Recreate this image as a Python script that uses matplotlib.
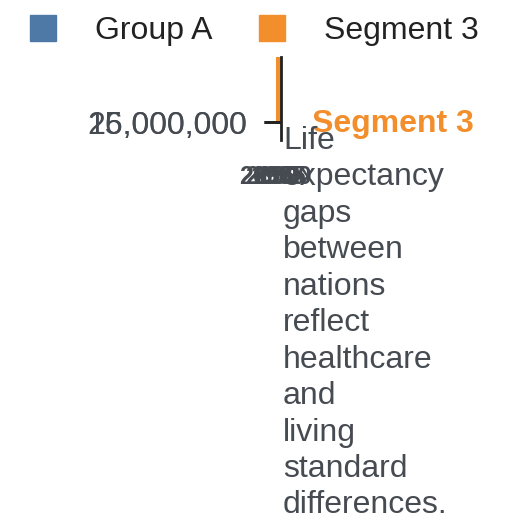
import matplotlib
matplotlib.use("Agg")
import matplotlib.pyplot as plt
from matplotlib.lines import Line2D

plt.rcParams['font.family'] = ['Liberation Sans', 'DejaVu Sans']

# data
years = ['1990', '1995', '2000', '2005']
group_a = [0, 0, 0, 0]
segment_3 = [0, 26_000_000, 0, 0]
y_tick_labels = ['15,000,000', '26,000,000']
series_names = ['Group A', 'Segment 3']
note = "Life expectancy gaps between nations reflect healthcare and living standard differences."

blue = '#4e79a7'
orange = '#f28e2b'
ink = '#464b52'

W = H = 528
fig = plt.figure(figsize=(W / 100, H / 100), dpi=100)

def px(l, t, r, b):
    return [l / W, 1 - b / H, (r - l) / W, (b - t) / H]

ax = fig.add_axes(px(264, 57, 287, 122))
x = list(range(len(years)))
ax.bar(x, group_a, width=0.87, color=blue)
ax.bar(x, segment_3, width=0.87, bottom=group_a, color=orange)
ax.set_xlim(len(years) - 0.5, -0.5)
ax.set_ylim(0, max(segment_3))

for s in ['top', 'right', 'bottom']:
    ax.spines[s].set_visible(False)
ax.spines['left'].set_position(('axes', 17 / 23))
ax.spines['left'].set_linewidth(2)
ax.spines['left'].set_color('#222222')
ax.spines['left'].set_bounds(-0.28 * max(segment_3), max(segment_3))

ax.set_xticks(x, years)
ax.tick_params(axis='x', length=0, pad=31, labelsize=18, labelcolor=ink)
for t in ax.get_xticklabels():
    t.set_fontweight('bold')

ax.yaxis.remove_overlapping_locs = False
ax.set_yticks([0], [y_tick_labels[0]])
ax.set_yticks([0], [y_tick_labels[1]], minor=True)
ax.tick_params(axis='y', which='both', length=12.2, width=2, color='#222222',
               pad=12, labelsize=23, labelcolor=ink)

# end label for the series
ax.annotate(series_names[1], xy=(1, 0), xytext=(24, -7), textcoords='offset points',
            color=orange, fontsize=23, fontweight='bold', va='baseline', ha='left',
            annotation_clip=False)

# wrapped note, one word per line
fig.text(283 / W, 1 - 126 / H, note.replace(' ', '\n'), ha='left', va='top',
         fontsize=23, color=ink, linespacing=1.28)

handles = [Line2D([], [], marker='s', linestyle='', markersize=18.7,
                  markerfacecolor=c, markeredgecolor=c) for c in (blue, orange)]
fig.legend(handles, series_names, loc='center left', bbox_to_anchor=(30 / W, 1 - 31.5 / H),
           ncol=2, frameon=False, fontsize=23, handlelength=0.8, handletextpad=1.23,
           columnspacing=1.47, borderpad=0, borderaxespad=0, labelcolor='#222222')

fig.savefig('out.png', dpi=100)
